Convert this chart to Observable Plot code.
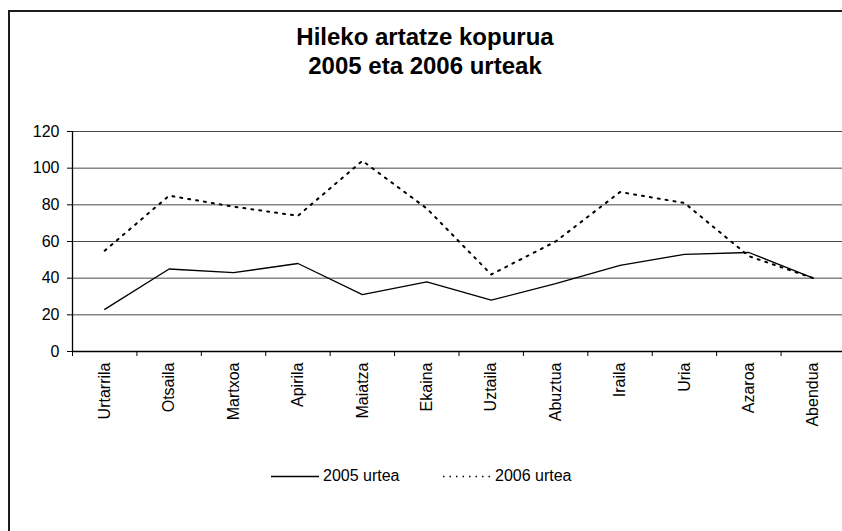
<!DOCTYPE html>
<html>
<head>
<meta charset="utf-8">
<script src="https://cdn.jsdelivr.net/npm/d3@7"></script>
<script src="https://cdn.jsdelivr.net/npm/@observablehq/plot@0.6"></script>
<style>
  body { margin: 0; background: #fff; }
  #wrap { position: relative; width: 842px; height: 531px; overflow: hidden; font-family: "Liberation Sans", Arial, sans-serif; color: #000; background: #fff; }
  #frame { position: absolute; left: 8px; top: 10px; width: 900px; height: 600px; border: 2px solid #1c1c1c; box-sizing: border-box; }
  #title { position: absolute; left: 8px; width: 834px; top: 22px; text-align: center; font-weight: bold; font-size: 24px; line-height: 29px; }
  #chart { position: absolute; left: 0; top: 0; width: 845px; }
  .leg { position: absolute; top: 467px; height: 18px; display: flex; align-items: center; font-size: 16px; line-height: 18px; white-space: nowrap; }
  .leg svg { display: block; margin-right: 4px; }
</style>
</head>
<body>
<div id="wrap">
  <div id="frame"></div>
  <div id="title">Hileko artatze kopurua<br>2005 eta 2006 urteak</div>
  <div id="chart"></div>
  <div id="legend"></div>
</div>
<script>
const months = ["Urtarrila","Otsaila","Martxoa","Apirila","Maiatza","Ekaina","Uztaila","Abuztua","Iraila","Uria","Azaroa","Abendua"];
const values2005 = [23, 45, 43, 48, 31, 38, 28, 37, 47, 53, 54, 40];
const values2006 = [55, 85, 79, 74, 104, 78, 42, 60, 87, 81, 52, 40];
const yTicks = [0, 20, 40, 60, 80, 100, 120];
const seriesNames = ["2005 urtea", "2006 urtea"];

const d2005 = months.map((m, i) => ({i, month: m, v: values2005[i]}));
const d2006 = months.map((m, i) => ({i, month: m, v: values2006[i]}));
const centers = d3.range(months.length);
const bounds = d3.range(months.length + 1).map(k => k - 0.5);

const chart = Plot.plot({
  width: 845,
  height: 531,
  marginLeft: 72,
  marginRight: 0,
  marginTop: 131,
  marginBottom: 180,
  style: {fontFamily: "'Liberation Sans', Arial, sans-serif", fontSize: "16px", color: "#000", background: "transparent", overflow: "visible"},
  x: {type: "linear", domain: [-0.5, months.length - 0.5]},
  y: {domain: [0, 120]},
  marks: [
    Plot.ruleY(yTicks.filter(t => t > 0), {stroke: "#4a4a4a", strokeWidth: 1}),
    Plot.axisY({ticks: yTicks, tickSize: 5, tickPadding: 8, label: null, stroke: "#000", fill: "#000", fontSize: 16}),
    Plot.axisX({ticks: bounds, tickSize: 5, tickFormat: () => "", label: null, stroke: "#000"}),
    Plot.axisX({ticks: centers, tickSize: 0, tickPadding: 11, tickRotate: -90, tickFormat: i => months[i], label: null, fill: "#000", fontSize: 16}),
    Plot.ruleX([-0.5], {stroke: "#000", strokeWidth: 1.3}),
    Plot.ruleY([0], {stroke: "#000", strokeWidth: 1.3}),
    Plot.line(d2005, {x: "i", y: "v", stroke: "#000", strokeWidth: 1.3}),
    Plot.line(d2006, {x: "i", y: "v", stroke: "#000", strokeWidth: 2, strokeDasharray: "2,6"})
  ]
});
document.getElementById("chart").appendChild(chart);

// legend
const legend = document.getElementById("legend");
const legendLefts = [271, 443];
seriesNames.forEach((name, k) => {
  const item = document.createElement("div");
  item.className = "leg";
  item.style.left = legendLefts[k] + "px";
  const dash = k === 1 ? ' stroke-dasharray="1.5,5"' : '';
  item.innerHTML = `<svg width="48" height="18"><line x1="0" x2="48" y1="9.5" y2="9.5" stroke="#000" stroke-width="1.3"${dash}/></svg><span>${name}</span>`;
  legend.appendChild(item);
});
</script>
</body>
</html>
